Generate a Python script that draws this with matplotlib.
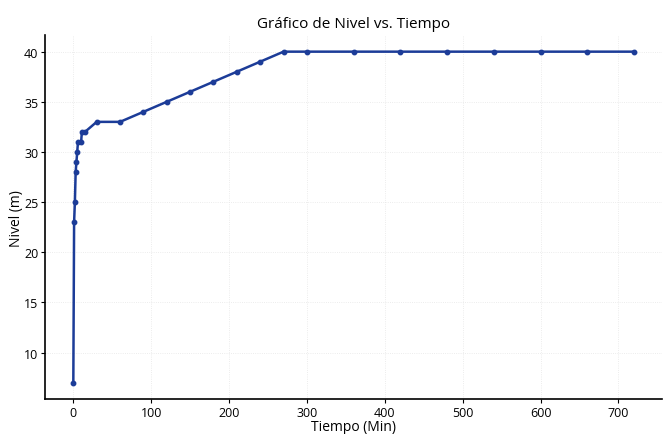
import numpy as np
import matplotlib
matplotlib.use('Agg')
import matplotlib.pyplot as plt

plt.rcParams['font.family'] = ['Open Sans', 'DejaVu Sans']

tiempo = [0, 1, 2, 3, 4, 5, 6, 10, 11, 15, 30, 60, 90, 120, 150, 180, 210, 240, 270,
          300, 360, 420, 480, 540, 600, 660, 720]
nivel = [7, 23, 25, 28, 29, 30, 31, 31, 32, 32, 33, 33, 34, 35, 36, 37, 38, 39, 40,
         40, 40, 40, 40, 40, 40, 40, 40]

fig = plt.figure(figsize=(6.66, 4.35), dpi=100)
ax = fig.add_axes([0.068, 0.08, 0.926, 0.837])
ax.plot(tiempo, nivel, '-o', color='#1c3c98', lw=1.8, ms=3.2)
ax.set_title('Gráfico de Nivel vs. Tiempo', fontsize=11)
ax.set_xlabel('Tiempo (Min)', fontsize=10, labelpad=0)
ax.set_ylabel('Nivel (m)', fontsize=10, labelpad=0)
ax.set_xticks(range(0, 701, 100))
ax.set_yticks(range(10, 41, 5))
ax.tick_params(labelsize=9, length=3, pad=2)
ax.grid(True, color='#e6e6e6', lw=0.6, ls=':')
for s in ['top', 'right']:
    ax.spines[s].set_visible(False)
ax.spines['left'].set_linewidth(1.2)
ax.spines['bottom'].set_linewidth(1.2)

plt.savefig('out.png', dpi=100)
